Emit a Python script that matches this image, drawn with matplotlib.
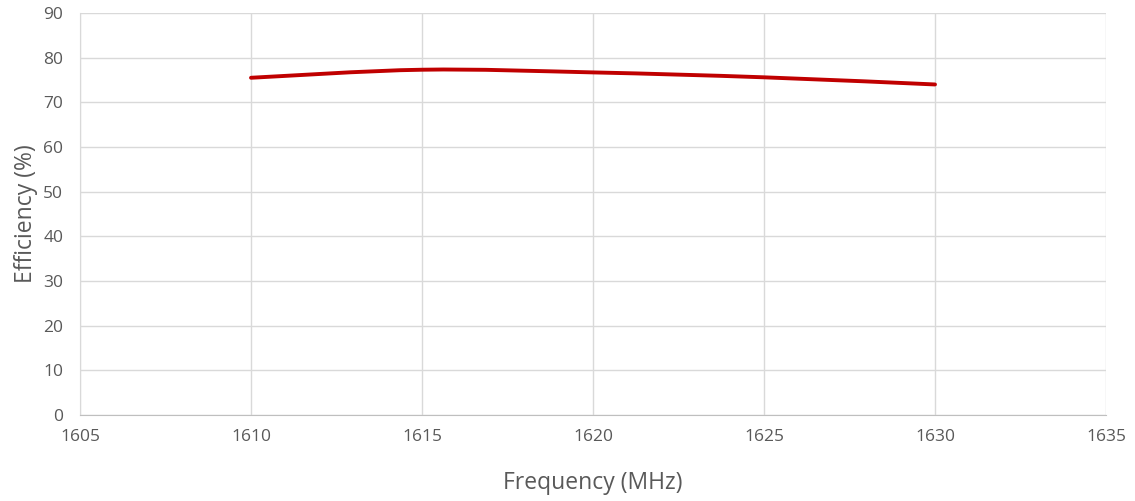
import matplotlib
matplotlib.use("Agg")
import matplotlib.pyplot as plt
from matplotlib.path import Path
from matplotlib.patches import PathPatch
import numpy as np

freq = [1610, 1615, 1620, 1625, 1630]
efficiency = [75.5, 77.3, 76.7, 75.6, 74.0]

x_ticks = [1605, 1610, 1615, 1620, 1625, 1630, 1635]
y_ticks = [0, 10, 20, 30, 40, 50, 60, 70, 80, 90]

plt.rcParams['font.family'] = ['Open Sans', 'DejaVu Sans']

fig = plt.figure(figsize=(11.35, 5.01), dpi=100)
ax = fig.add_axes([80 / 1135, 1 - 415 / 501, (1106 - 80) / 1135, (415 - 13) / 501])

# smoothed line like Excel (Catmull-Rom -> cubic Bezier)
x = np.array(freq, dtype=float)
y = np.array(efficiency, dtype=float)
verts = [(x[0], y[0])]
codes = [Path.MOVETO]
for i in range(len(x) - 1):
    p0 = (x[i - 1], y[i - 1]) if i > 0 else (x[i], y[i])
    p1 = (x[i], y[i])
    p2 = (x[i + 1], y[i + 1])
    p3 = (x[i + 2], y[i + 2]) if i + 2 < len(x) else (x[i + 1], y[i + 1])
    c1 = (p1[0] + (p2[0] - p0[0]) / 6, p1[1] + (p2[1] - p0[1]) / 6)
    c2 = (p2[0] - (p3[0] - p1[0]) / 6, p2[1] - (p3[1] - p1[1]) / 6)
    verts += [c1, c2, p2]
    codes += [Path.CURVE4] * 3
ax.add_patch(PathPatch(Path(verts, codes), facecolor='none', edgecolor='#c00000',
                       lw=2.8, capstyle='round', zorder=3))

ax.set_xlim(1605, 1635)
ax.set_ylim(0, 90)
ax.set_xticks(x_ticks)
ax.set_yticks(y_ticks)
ax.grid(True, color='#d9d9d9', lw=1)
ax.set_axisbelow(True)
for s in ['top', 'right']:
    ax.spines[s].set_visible(False)
ax.spines['left'].set_color('#d9d9d9')
ax.spines['bottom'].set_color('#bfbfbf')
ax.tick_params(length=0, colors='#595959', labelsize=12.5)
ax.tick_params(axis='x', pad=10)
ax.tick_params(axis='y', pad=12)
ax.set_xlabel('Frequency (MHz)', fontsize=16.5, color='#595959', labelpad=19)
ax.set_ylabel('Efficiency (%)', fontsize=16.5, color='#595959', labelpad=4)

fig.savefig('out.png', dpi=100)
